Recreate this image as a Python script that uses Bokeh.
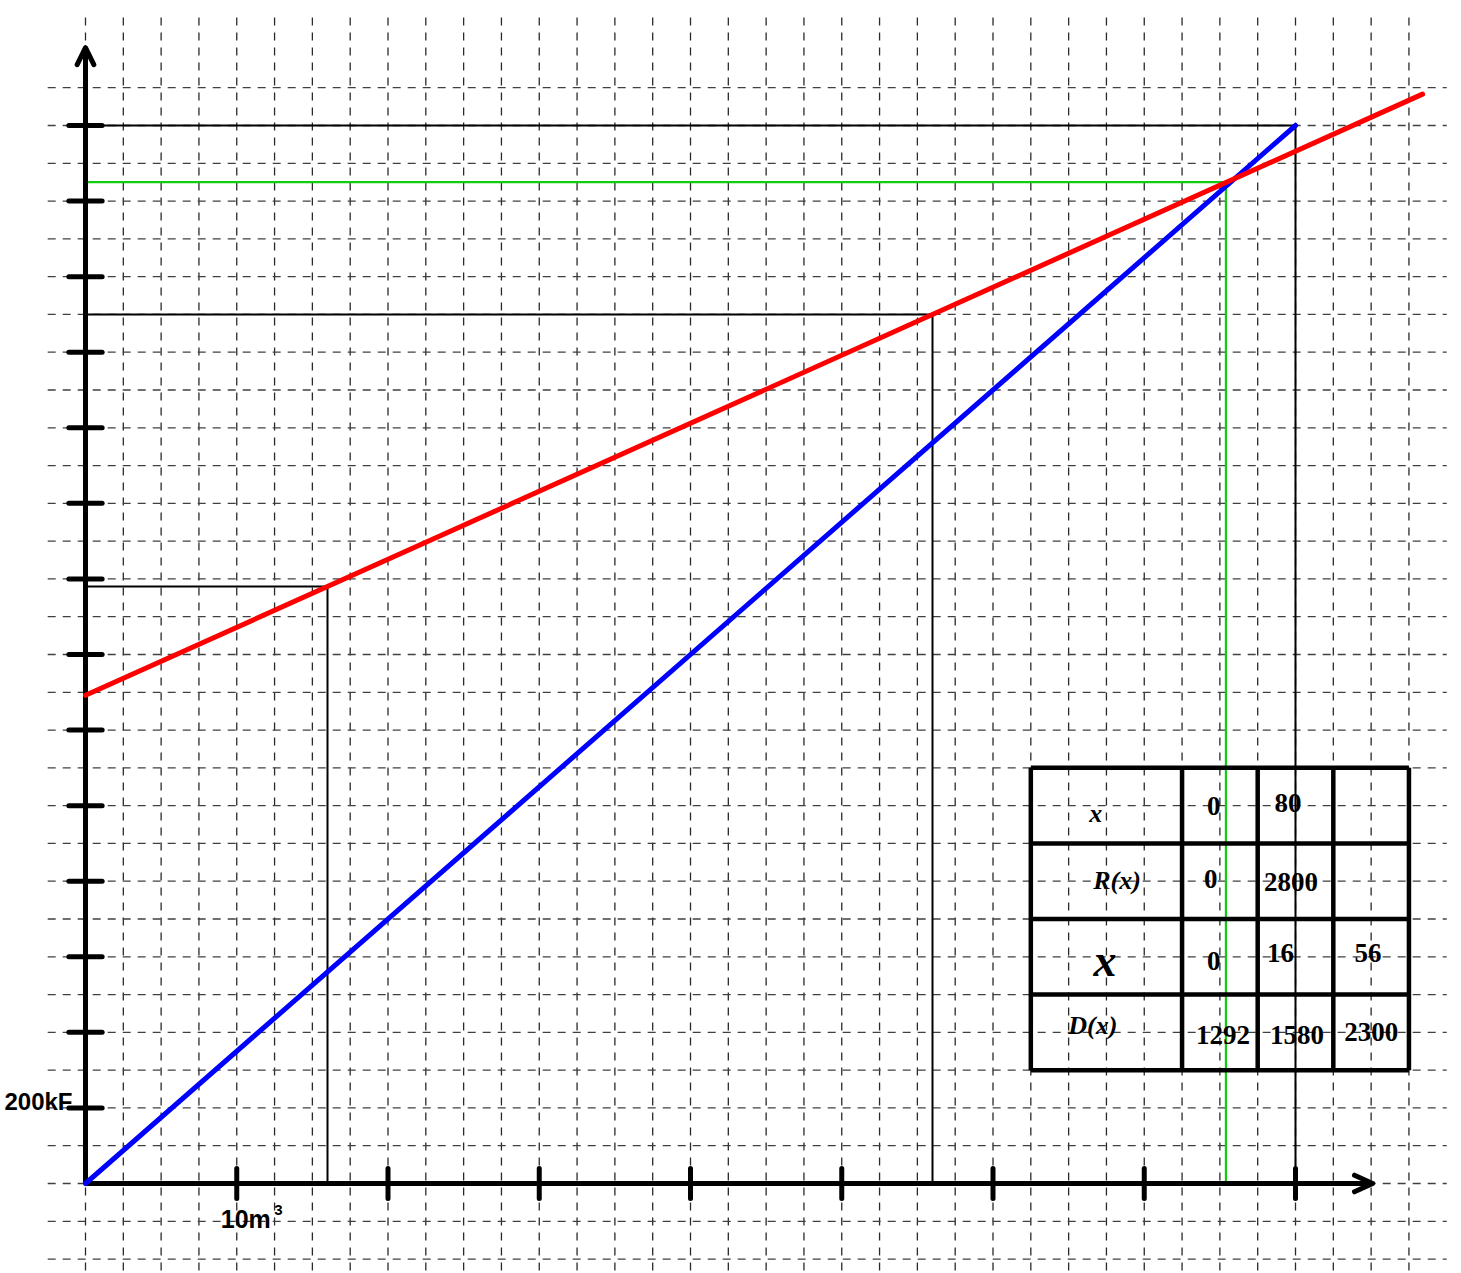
from bokeh.plotting import figure
from bokeh.embed import file_html
from bokeh.resources import INLINE
from bokeh.core.properties import value

# ---------------- data ----------------
x_ticks = [10, 20, 30, 40, 50, 60, 70, 80]
y_ticks = [200, 400, 600, 800, 1000, 1200, 1400, 1600, 1800, 2000, 2200, 2400, 2600, 2800]

# revenue R(x) = 35x  (blue)
revenue_x = [0, 80]
revenue_y = [0, 2800]
# cost D(x) (red)
cost_x = [0, 88.4]
cost_y = [1292, 2883]

# reading guides (black)
guide_x = [80, 56, 16]
guide_y = [2800, 2300, 1580]
# break-even point (green)
equil_x = [75.4]
equil_y = [2650]

# background dashed grid
grid_x = [0, 2.5, 5, 7.5, 10, 12.5, 15, 17.5, 20, 22.5, 25, 27.5, 30, 32.5, 35, 37.5,
          40, 42.5, 45, 47.5, 50, 52.5, 55, 57.5, 60, 62.5, 65, 67.5, 70, 72.5, 75,
          77.5, 80, 82.5, 85, 87.5]
grid_y = [-200, -100, 0, 100, 200, 300, 400, 500, 600, 700, 800, 900, 1000, 1100,
          1200, 1300, 1400, 1500, 1600, 1700, 1800, 1900, 2000, 2100, 2200, 2300,
          2400, 2500, 2600, 2700, 2800, 2900]

# value table
table_col_edges = [62.5, 72.5, 77.5, 82.5, 87.5]
table_row_edges = [1100, 900, 700, 500, 300]
cell_text = ["0", "80", "0", "2800", "0", "16", "56", "1292", "1580", "2300"]
cell_x = [74.6, 79.5, 74.4, 79.7, 74.6, 79.0, 84.8, 75.2, 80.1, 85.0]
cell_y = [1000, 1008, 805, 797, 590, 609, 609, 392, 392, 400]
head_text = ["x", "R(x)", "D(x)"]
head_x = [66.8, 68.2, 66.6]
head_y = [979, 802, 418]
big_head_text = ["x"]
big_head_x = [67.4]
big_head_y = [590]

# ---------------- figure ----------------
p = figure(width=1461, height=1273,
           x_range=(-5.620, 90.975), y_range=(-238.2, 3130.8),
           min_border=0, toolbar_location=None, output_backend="svg",
           x_axis_location=None, y_axis_location=None)
p.grid.visible = False
p.outline_line_color = None
p.background_fill_color = "white"
p.border_fill_color = "white"

# grid
p.segment(x0=grid_x, y0=[-230] * len(grid_x), x1=grid_x, y1=[3104] * len(grid_x),
          line_color="#2a2a2a", line_width=1.3, line_dash="8 7")
p.segment(x0=[-2.5] * len(grid_y), y0=grid_y, x1=[90] * len(grid_y), y1=grid_y,
          line_color="#404040", line_width=1.3, line_dash="8 7")

# guides
for gx, gy in zip(guide_x, guide_y):
    p.line([0, gx, gx], [gy, gy, 0], line_color="black", line_width=2)
p.line([0, equil_x[0], equil_x[0]], [equil_y[0], equil_y[0], 0],
       line_color="#11cc11", line_width=2.2)

# table
tb, tt = table_row_edges[-1], table_row_edges[0]
tl, tr = table_col_edges[0], table_col_edges[-1]
p.segment(x0=table_col_edges, y0=[tb] * 5, x1=table_col_edges, y1=[tt] * 5,
          line_color="black", line_width=4.5)
p.segment(x0=[tl] * 5, y0=table_row_edges, x1=[tr] * 5, y1=table_row_edges,
          line_color="black", line_width=4.5)

# axes
p.line([0, 0], [0, 3006], line_color="black", line_width=5)
p.line([0, 85.1], [0, 0], line_color="black", line_width=5)
p.line([-0.55, 0, 0.55], [2961, 3006, 2961], line_color="black", line_width=5,
       line_cap="round", line_join="round")
p.line([83.9, 85.1, 83.9], [22, 0, -22], line_color="black", line_width=5,
       line_cap="round", line_join="round")
p.segment(x0=[-1.1] * len(y_ticks), y0=y_ticks, x1=[1.1] * len(y_ticks), y1=y_ticks,
          line_color="black", line_width=5, line_cap="round")
p.segment(x0=x_ticks, y0=[-40] * len(x_ticks), x1=x_ticks, y1=[40] * len(x_ticks),
          line_color="black", line_width=5, line_cap="round")

# functions
p.line(revenue_x, revenue_y, line_color="#0000ff", line_width=5, line_cap="round")
p.line(cost_x, cost_y, line_color="#ff0000", line_width=5, line_cap="round")

# table texts
serif = value("Liberation Serif")
p.text(x=cell_x, y=cell_y, text=cell_text, text_font=serif, text_font_size="27px",
       text_font_style="bold", text_align="center", text_baseline="middle",
       text_color="black")
p.text(x=head_x, y=head_y, text=head_text, text_font=serif, text_font_size="26px",
       text_font_style="bold italic", text_align="center", text_baseline="middle",
       text_color="black")
p.text(x=big_head_x, y=big_head_y, text=big_head_text, text_font=serif,
       text_font_size="46px", text_font_style="bold italic", text_align="center",
       text_baseline="middle", text_color="black")

# unit labels
sans = value("Liberation Sans")
p.text(x=[-0.86], y=[217], text=["200kF"], text_font=sans, text_font_size="24px",
       text_font_style="bold", text_align="right", text_baseline="middle",
       text_color="black")
p.text(x=[10.6], y=[-95], text=["10m"], text_font=sans, text_font_size="25px",
       text_font_style="bold", text_align="center", text_baseline="middle",
       text_color="black")
p.text(x=[12.76], y=[-71], text=["3"], text_font=sans, text_font_size="15px",
       text_font_style="bold", text_align="center", text_baseline="middle",
       text_color="black")

open("out.html", "w").write(file_html(p, INLINE))
